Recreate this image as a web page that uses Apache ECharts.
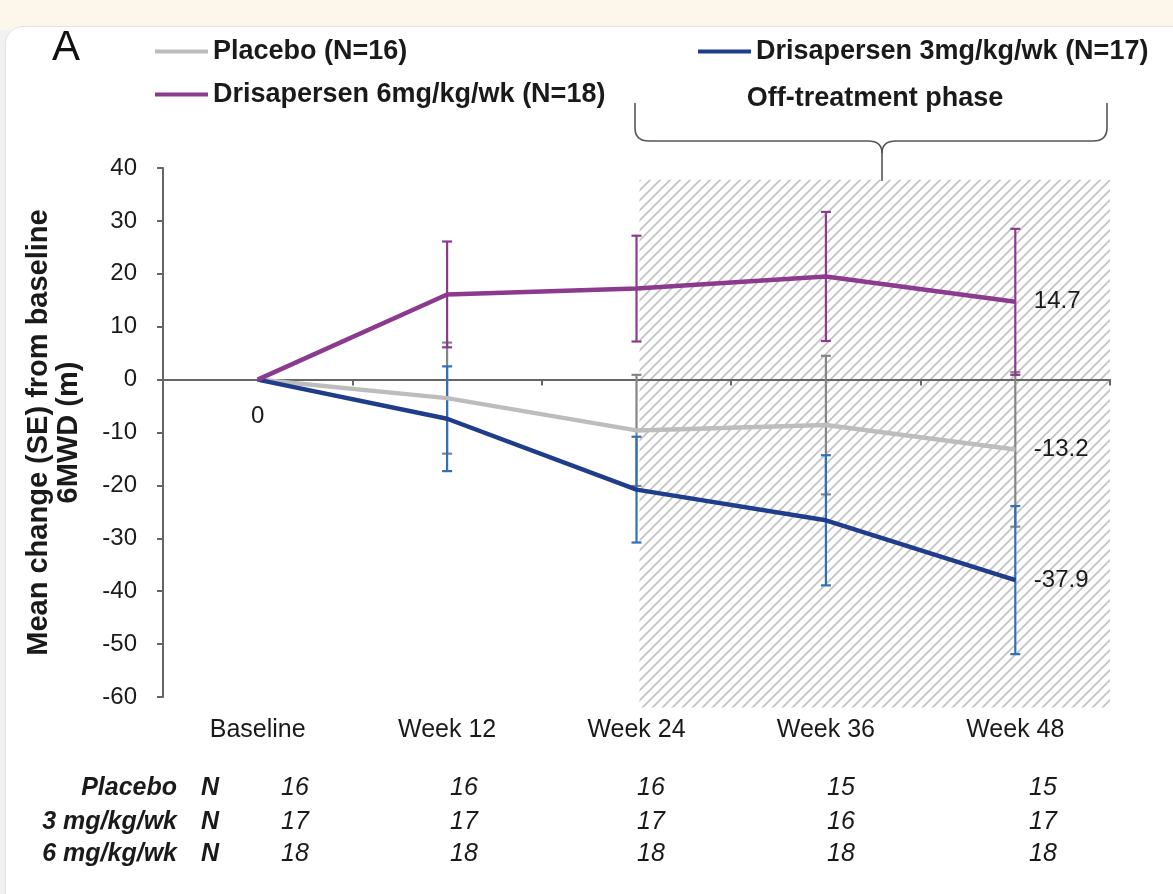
<!DOCTYPE html>
<html>
<head>
<meta charset="utf-8">
<title>6MWD change from baseline</title>
<script src="https://cdn.jsdelivr.net/npm/echarts@6/dist/echarts.min.js"></script>
<style>
	html, body { margin: 0; padding: 0; background: #f1f1f1; overflow: hidden; }
	#strip { position: absolute; left: 0; top: 0; width: 1173px; height: 30px; background: #fdf6ea; }
	#card { position: absolute; left: 5px; top: 26px; width: 1200px; height: 900px; background: #fff;
		border: 1px solid #e2e2e2; border-radius: 18px; }
	#chart { position: absolute; left: 0; top: 0; width: 1173px; height: 894px; }
</style>
</head>
<body>
<div id="strip"></div>
<div id="card"></div>
<div id="chart"></div>
<script>
	const categories = ['Baseline', 'Week 12', 'Week 24', 'Week 36', 'Week 48'];
	const yTicks = { min: -60, max: 40, step: 10 };

	/* 均值 和 SE (m) */
	const placebo = [0, -3.5, -9.6, -8.6, -13.2];
	const placeboSE = [0, 10.5, 10.5, 13.1, 14.6];
	const dose3 = [0, -7.4, -20.8, -26.6, -37.9];
	const dose3SE = [0, 9.9, 10, 12.3, 14];
	const dose6 = [0, 16.1, 17.2, 19.5, 14.7];
	const dose6SE = [0, 10, 10, 12.2, 13.8];

	/* 每个时间点的 N */
	const rowLabels = ['Placebo', '3 mg/kg/wk', '6 mg/kg/wk'];
	const nPlacebo = [16, 16, 16, 15, 15];
	const nDose3 = [17, 17, 17, 16, 17];
	const nDose6 = [18, 18, 18, 18, 18];

	const names = ['Placebo (N=16)', 'Drisapersen 3mg/kg/wk (N=17)', 'Drisapersen 6mg/kg/wk (N=18)'];
	const offPhaseFrom = 'Week 24';

	const font = '"Liberation Sans", Arial, Helvetica, sans-serif';
	const ink = '#1a1a1a';
	const axisColor = '#666666';
	const colors = { placebo: '#bdbdbd', dose3: '#1f3d8a', dose6: '#8c3a8e' };
	const barColors = { placebo: '#858585', dose3: '#3170b8', dose6: '#8c3a8e' };

	const chart = echarts.init(document.getElementById('chart'));

	const endLabel = {
		show: true,
		position: 'right',
		distance: 18,
		fontFamily: font,
		fontSize: 24,
		color: ink
	};

	const lineData = (values, withZero) => values.map((v, i) => {
		if (i === values.length - 1) return { value: v, label: endLabel };
		if (i === 0 && withZero) {
			return { value: v, label: { show: true, position: 'bottom', distance: 24, fontFamily: font, fontSize: 24, color: ink } };
		}
		return v;
	});

	const lineSeries = (name, values, color, withZero) => ({
		type: 'line',
		name: name,
		data: lineData(values, withZero),
		color: color,
		symbol: 'circle',
		symbolSize: 1,
		lineStyle: { width: 4.5, color: color },
		itemStyle: { color: color },
		label: { show: false },
		z: 4,
		silent: true
	});

	const errorBars = (mean, se, color) => ({
		type: 'custom',
		silent: true,
		z: 3,
		data: mean.map((m, i) => [i, m - se[i], m + se[i]]),
		encode: { x: 0, y: [1, 2] },
		renderItem(params, api) {
			if (api.value(1) === api.value(2)) return;
			const lo = api.coord([api.value(0), api.value(1)]);
			const hi = api.coord([api.value(0), api.value(2)]);
			const w = 5;
			const style = { stroke: color, lineWidth: 2.2 };
			return {
				type: 'group',
				children: [
					{ type: 'line', shape: { x1: lo[0], y1: lo[1], x2: hi[0], y2: hi[1] }, style },
					{ type: 'line', shape: { x1: lo[0] - w, y1: lo[1], x2: lo[0] + w, y2: lo[1] }, style },
					{ type: 'line', shape: { x1: hi[0] - w, y1: hi[1], x2: hi[0] + w, y2: hi[1] }, style }
				]
			};
		}
	});

	const legendBase = {
		orient: 'vertical',
		icon: 'rect',
		itemWidth: 53,
		itemHeight: 4,
		padding: 0,
		selectedMode: false,
		textStyle: { fontFamily: font, fontSize: 27, fontWeight: 'bold', color: ink }
	};

	/* 花括号 */
	const braceStyle = { fill: null, stroke: '#555', lineWidth: 1.6 };
	const seg = (x1, y1, x2, y2) => ({ type: 'line', shape: { x1, y1, x2, y2 }, style: braceStyle });
	const curve = (x1, y1, cx, cy, x2, y2) => ({ type: 'bezierCurve', shape: { x1, y1, x2, y2, cpx1: cx, cpy1: cy }, style: braceStyle });
	const brace = {
		type: 'group', id: 'brace',
		children: [
			seg(635, 103, 635, 128),
			curve(635, 128, 635, 141, 649, 141),
			seg(649, 141, 868, 141),
			curve(868, 141, 882, 141, 882, 153),
			seg(882, 153, 882, 181),
			curve(882, 153, 882, 141, 896, 141),
			seg(896, 141, 1093, 141),
			curve(1093, 141, 1107, 141, 1107, 128),
			seg(1107, 128, 1107, 103)
		]
	};

	/* N 表 */
	const nColumnX = [295, 464, 651, 841, 1043];
	const nRowY = [788, 822, 854];
	const tableText = [];
	[nPlacebo, nDose3, nDose6].forEach((row, r) => {
		tableText.push({
			type: 'text', x: 177, y: nRowY[r],
			style: { text: rowLabels[r], textAlign: 'right', textVerticalAlign: 'middle', fontFamily: font, fontSize: 25, fontWeight: 'bold', fontStyle: 'italic', fill: ink }
		});
		tableText.push({
			type: 'text', x: 210, y: nRowY[r],
			style: { text: 'N', textAlign: 'center', textVerticalAlign: 'middle', fontFamily: font, fontSize: 25, fontWeight: 'bold', fontStyle: 'italic', fill: ink }
		});
		row.forEach((n, c) => {
			tableText.push({
				type: 'text', x: nColumnX[c], y: nRowY[r],
				style: { text: String(n), textAlign: 'center', textVerticalAlign: 'middle', fontFamily: font, fontSize: 25, fontStyle: 'italic', fill: ink }
			});
		});
	});

	chart.setOption({
		animation: false,
		backgroundColor: 'transparent',
		grid: { left: 163, right: 63, top: 168, bottom: 197 },
		legend: [
			Object.assign({}, legendBase, { left: 155, top: 38, data: [names[0]] }),
			Object.assign({}, legendBase, { left: 155, top: 81, data: [names[2]] }),
			Object.assign({}, legendBase, { left: 698, top: 38, data: [names[1]] })
		],
		xAxis: [
			{
				type: 'category',
				data: categories,
				position: 'bottom',
				axisLine: { show: false, onZero: false },
				axisTick: { show: false },
				axisLabel: { margin: 21, fontFamily: font, fontSize: 25, color: ink }
			},
			{
				type: 'category',
				data: categories,
				position: 'top',
				z: 2,
				axisLine: { onZero: true, lineStyle: { color: axisColor, width: 2 } },
				axisTick: { show: true, inside: true, length: 6, lineStyle: { color: axisColor, width: 2 } },
				axisLabel: { show: false }
			}
		],
		yAxis: {
			type: 'value',
			min: yTicks.min,
			max: yTicks.max,
			interval: yTicks.step,
			name: 'Mean change (SE) from baseline\n6MWD (m)',
			nameLocation: 'middle',
			nameGap: 79,
			nameTextStyle: { fontFamily: font, fontSize: 29, fontWeight: 'bold', lineHeight: 30, color: ink },
			axisLine: { show: true, onZero: false, lineStyle: { color: axisColor, width: 2 } },
			axisTick: { show: true, length: 6, lineStyle: { color: axisColor, width: 2 } },
			splitLine: { show: false },
			axisLabel: { margin: 26, fontFamily: font, fontSize: 24, color: ink }
		},
		series: [
			errorBars(placebo, placeboSE, barColors.placebo),
			errorBars(dose3, dose3SE, barColors.dose3),
			errorBars(dose6, dose6SE, barColors.dose6),
			lineSeries(names[0], placebo, colors.placebo, true),
			lineSeries(names[1], dose3, colors.dose3, false),
			lineSeries(names[2], dose6, colors.dose6, false)
		],
		graphic: [
			{
				type: 'text', id: 'panel', x: 52, y: 48,
				style: { text: 'A', textVerticalAlign: 'middle', fontFamily: font, fontSize: 42, fill: '#111' }
			},
			{
				type: 'text', id: 'offText', x: 875, y: 99,
				style: { text: 'Off-treatment phase', textAlign: 'center', textVerticalAlign: 'middle', fontFamily: font, fontSize: 27, fontWeight: 'bold', fill: ink }
			},
			brace
		].concat(tableText)
	});

	/* 停药阶段 斜线阴影 */
	const tile = document.createElement('canvas');
	tile.width = tile.height = 10;
	const ctx = tile.getContext('2d');
	ctx.strokeStyle = '#c2c2c2';
	ctx.lineWidth = 1.7;
	ctx.beginPath();
	ctx.moveTo(-1, 11); ctx.lineTo(11, -1);
	ctx.moveTo(-1, 1); ctx.lineTo(1, -1);
	ctx.moveTo(9, 11); ctx.lineTo(11, 9);
	ctx.stroke();

	const px = c => chart.convertToPixel({ xAxisIndex: 0 }, c);
	const band = px(categories[4]) - px(categories[3]);
	const hx0 = px(offPhaseFrom) + 3;
	const hx1 = px(categories[categories.length - 1]) + band / 2;
	const hy0 = chart.convertToPixel({ yAxisIndex: 0 }, 37.8);
	const hy1 = chart.convertToPixel({ yAxisIndex: 0 }, -62);

	chart.setOption({
		graphic: [{
			type: 'rect', id: 'hatch', z: 1,
			shape: { x: hx0, y: hy0, width: hx1 - hx0, height: hy1 - hy0 },
			style: { fill: { image: tile, repeat: 'repeat' } },
			silent: true
		}]
	});
</script>
</body>
</html>
